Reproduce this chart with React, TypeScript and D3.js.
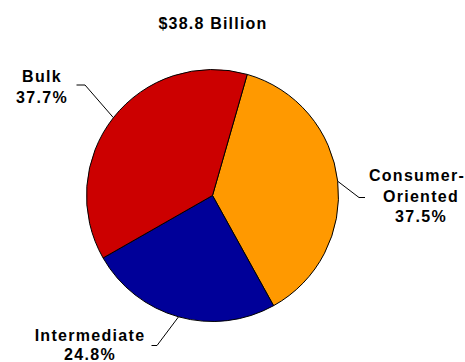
import React from "react";
import * as d3 from "d3";

const categories = ["Consumer-Oriented", "Intermediate", "Bulk"];
const shares = [37.5, 24.8, 37.7];
const colors = ["#FF9900", "#000099", "#CC0000"];
const title = "$38.8 Billion";
const labelLines = [
  ["Consumer-", "Oriented", "37.5%"],
  ["Intermediate", "24.8%"],
  ["Bulk", "37.7%"],
];

const W = 465;
const H = 362;
const cx = 212.5;
const cy = 195.5;
const R = 126;
const startDeg = 16;

// label block placement: text center x, first baseline y, line gap, elbow point and end of horizontal tick
const labelLayout = [
  { x: 417, y: 181, gap: 20.5, elbow: [359, 197.5], end: [365, 197.5] },
  { x: 90, y: 340.5, gap: 19.5, elbow: [157, 345.5], end: [151.5, 345.5] },
  { x: 42, y: 81.5, gap: 21, elbow: [85, 85], end: [76.5, 85] },
];

const FONT = "'Liberation Sans', Arial, sans-serif";

export default function App() {
  const start = (startDeg * Math.PI) / 180;
  const pie = d3
    .pie<number>()
    .sort(null)
    .value((d) => d)
    .startAngle(start)
    .endAngle(start + 2 * Math.PI);
  const arcs = pie(shares);
  const arc = d3.arc<d3.PieArcDatum<number>>().innerRadius(0).outerRadius(R);

  return (
    <svg
      width={W}
      height={H}
      style={{ position: "absolute", left: 0, top: 0, background: "#fff" }}
    >
      <text
        x={213}
        y={29}
        textAnchor="middle"
        fontFamily={FONT}
        fontWeight="bold"
        fontSize={16}
        letterSpacing={1.2}
        fill="#000"
      >
        {title}
      </text>
      <g transform={`translate(${cx},${cy})`}>
        {arcs.map((a, i) => (
          <path
            key={categories[i]}
            d={arc(a) || ""}
            fill={colors[i]}
            stroke="#000"
            strokeWidth={1}
          />
        ))}
      </g>
      {arcs.map((a, i) => {
        const mid = (a.startAngle + a.endAngle) / 2;
        const px = cx + R * Math.sin(mid);
        const py = cy - R * Math.cos(mid);
        const L = labelLayout[i];
        return (
          <g key={"lab" + i}>
            <polyline
              points={`${px},${py} ${L.elbow[0]},${L.elbow[1]} ${L.end[0]},${L.end[1]}`}
              fill="none"
              stroke="#000"
              strokeWidth={1}
            />
            {labelLines[i].map((t, j) => (
              <text
                key={j}
                x={j === 0 && i === 0 ? L.x : L.x + (i === 0 ? 4 : 0)}
                y={L.y + j * L.gap}
                textAnchor="middle"
                fontFamily={FONT}
                fontWeight="bold"
                fontSize={16}
                letterSpacing={1.3}
                fill="#000"
              >
                {t}
              </text>
            ))}
          </g>
        );
      })}
    </svg>
  );
}
